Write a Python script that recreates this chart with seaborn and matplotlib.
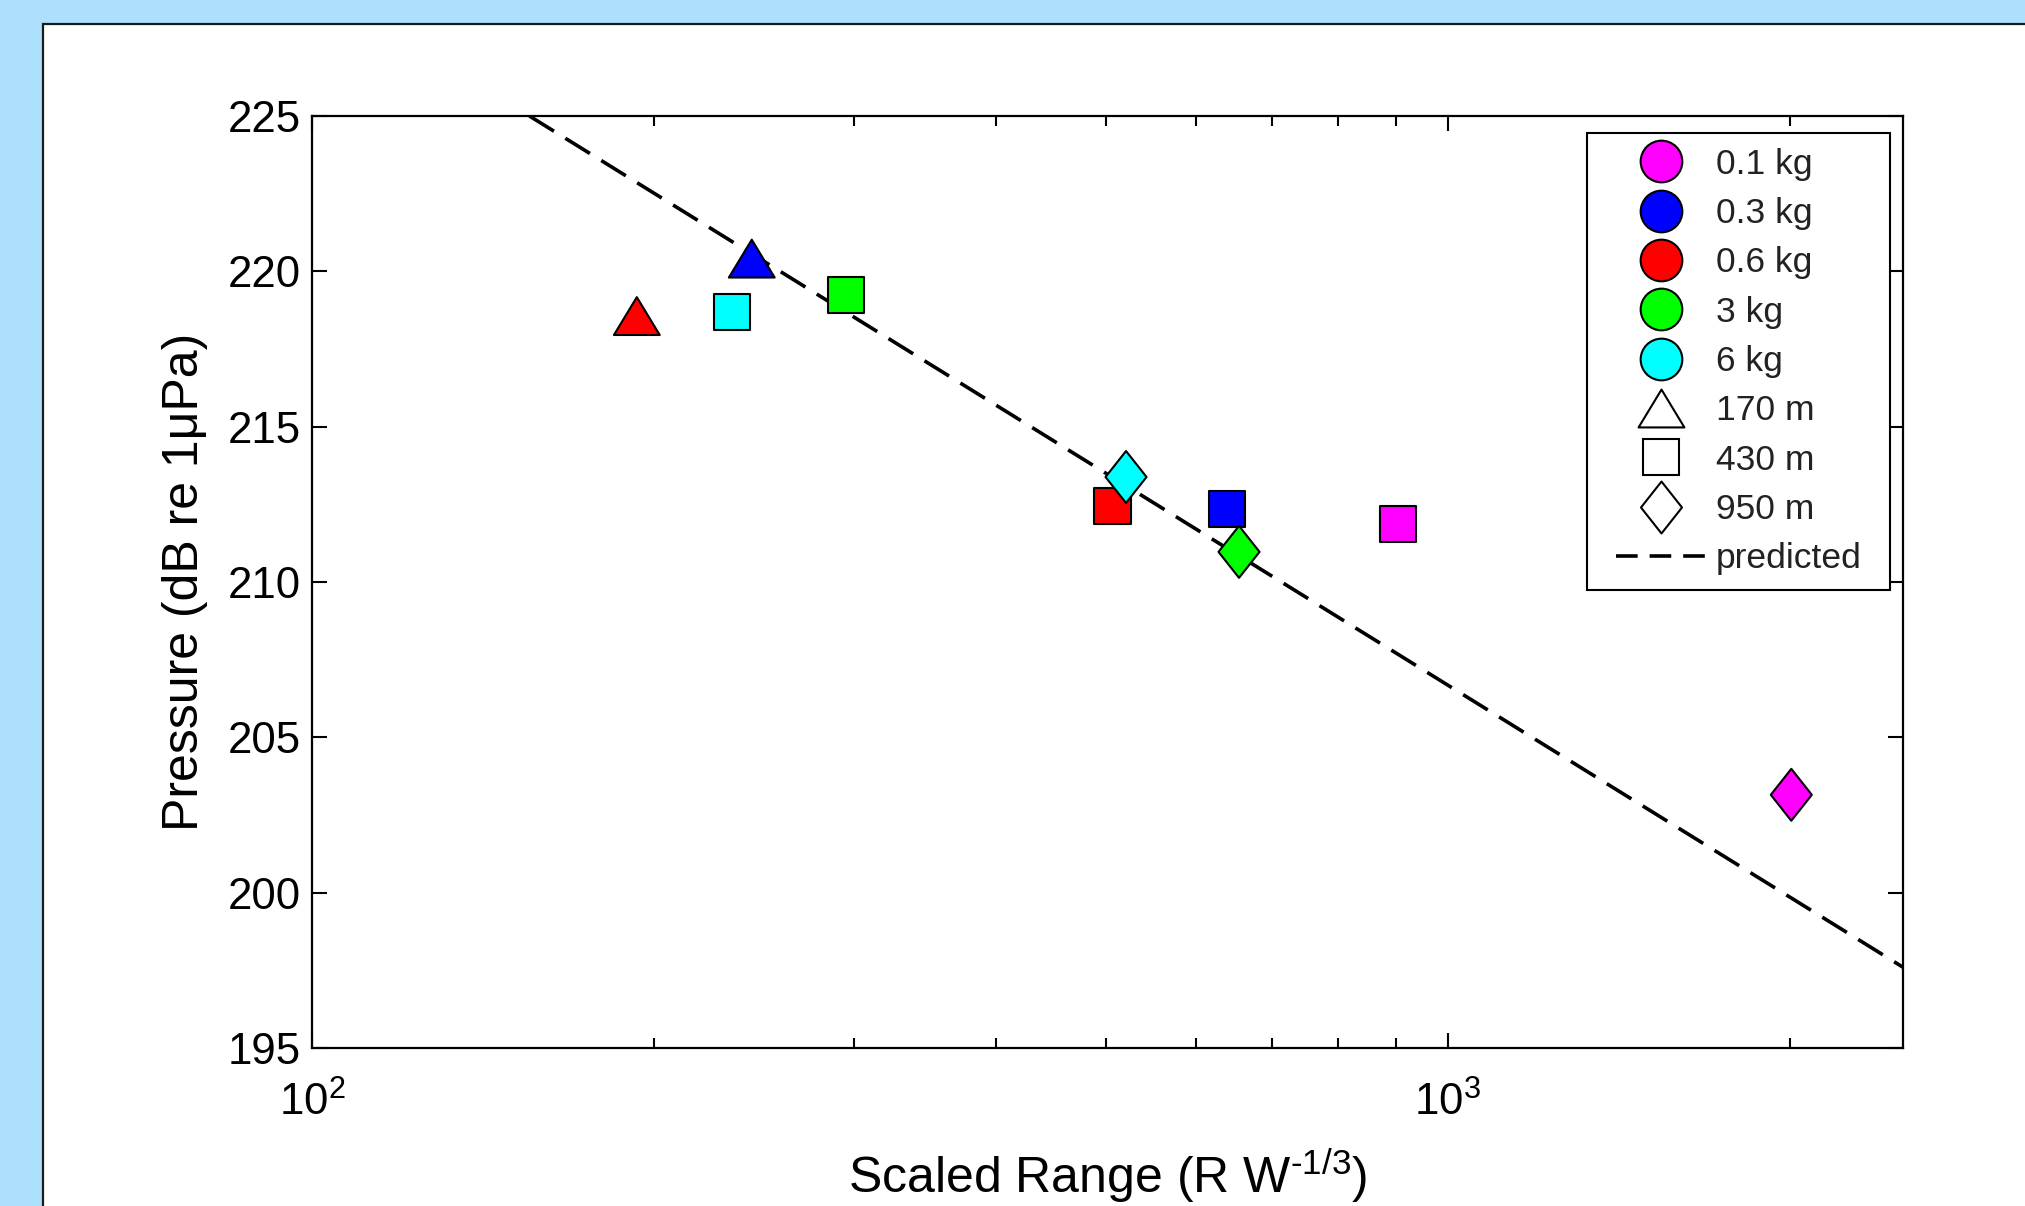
import numpy as np
import pandas as pd
import matplotlib
matplotlib.use("Agg")
import matplotlib.pyplot as plt
import seaborn as sns
from matplotlib.lines import Line2D
from matplotlib.patches import Rectangle
from matplotlib.path import Path
from matplotlib.legend_handler import HandlerLine2D
from matplotlib.ticker import FixedLocator, NullLocator, NullFormatter, LogLocator

# ---------------- data ----------------
charges = ["0.1 kg", "0.3 kg", "0.6 kg", "3 kg", "6 kg"]
ranges = ["170 m", "430 m", "950 m"]
charge_colors = ["#FF00FF", "#0000FF", "#FF0000", "#00FF00", "#00FFFF"]

pt_charge = ["0.6 kg", "0.3 kg", "6 kg", "3 kg", "0.6 kg", "0.3 kg", "0.1 kg", "6 kg", "3 kg", "0.1 kg"]
pt_range = ["170 m", "170 m", "430 m", "430 m", "430 m", "430 m", "430 m", "950 m", "950 m", "950 m"]
scaled_range = [193.2, 243.9, 234.4, 295.3, 506.8, 639.3, 904.0, 520.9, 655.0, 2007.0]
pressure = [218.56, 220.41, 218.69, 219.24, 212.45, 212.35, 211.88, 213.38, 210.97, 203.15]

pred_x = [155.4, 2517.0]
pred_y = [225.0, 197.6]

y_ticks = [195, 200, 205, 210, 215, 220, 225]

# ---------------- style ----------------
sns.set_style("ticks")
plt.rcParams["font.family"] = ["Liberation Sans", "DejaVu Sans"]
plt.rcParams["mathtext.fontset"] = "custom"
plt.rcParams["mathtext.rm"] = "Liberation Sans"
plt.rcParams["mathtext.it"] = "Liberation Sans:italic"
plt.rcParams["mathtext.bf"] = "Liberation Sans:bold"
plt.rcParams["mathtext.default"] = "regular"
for k in ["text.color", "axes.labelcolor", "xtick.color", "ytick.color", "axes.edgecolor"]:
    plt.rcParams[k] = "black"

W, H = 2025, 1206
fig = plt.figure(figsize=(W / 100, H / 100), dpi=100)
fig.patch.set_facecolor("#ACE0FC")
fig.add_artist(Rectangle((43 / W, -0.1), 2.0, 1 - 24 / H + 0.1, transform=fig.transFigure,
                         facecolor="white", edgecolor="#1a1a1a", lw=1.6, zorder=-5))

L, R, T, B = 312, 1903, 116, 1048
ax = fig.add_axes([L / W, 1 - B / H, (R - L) / W, (B - T) / H])
ax.set_facecolor("white")

palette = dict(zip(charges, charge_colors))

def closed(verts):
    return Path(list(verts) + [verts[0]], closed=True)

tri_path = closed([(-1.0, -0.826), (1.0, -0.826), (0.0, 0.826)])
dia_path = closed([(0.0, 1.0), (0.79, 0.0), (0.0, -1.0), (-0.79, 0.0)])
markers = {"170 m": tri_path, "430 m": "s", "950 m": dia_path}
msize = {"170 m": 33.0, "430 m": 26.0, "950 m": 37.4}

df = pd.DataFrame({"charge": pt_charge, "range": pt_range,
                   "scaled": scaled_range, "pressure": pressure})

# predicted line
sns.lineplot(x=pred_x, y=pred_y, ax=ax, color="black", lw=2.6,
             linestyle=(0, (8.0, 3.7)), zorder=2, legend=False)

for rng in ranges:
    sub = df[df["range"] == rng]
    sns.scatterplot(data=sub, x="scaled", y="pressure", hue="charge",
                    palette=palette, hue_order=charges, marker=markers[rng],
                    s=msize[rng] ** 2, edgecolor="black", linewidth=1.5,
                    legend=False, ax=ax, zorder=3)

ax.set_xscale("log")
ax.set_xlim(100, 2517)
ax.set_ylim(195, 225)
ax.yaxis.set_major_locator(FixedLocator(y_ticks))
ax.yaxis.set_minor_locator(NullLocator())
ax.xaxis.set_major_locator(LogLocator(base=10))
ax.xaxis.set_minor_locator(LogLocator(base=10, subs=np.arange(2, 10)))
ax.xaxis.set_minor_formatter(NullFormatter())

ax.tick_params(which="both", direction="in", top=True, right=True, width=1.5,
               labelsize=31.5, colors="black")
ax.tick_params(which="major", length=11, pad=8)
ax.tick_params(which="minor", length=7)
ax.tick_params(axis="x", which="major", pad=24)
for s in ax.spines.values():
    s.set_linewidth(1.6)
    s.set_color("black")
    s.set_visible(True)

ax.set_xlabel("Scaled Range (R W$^{\\text{-1/3}}$)", fontsize=36, labelpad=16, color="black")
ax.set_ylabel("Pressure (dB re 1\u03bcPa)", fontsize=36, labelpad=14, color="black")

# legend
handles = []
for c in charges:
    handles.append(Line2D([], [], ls="none", marker="o", markersize=30,
                          markerfacecolor=palette[c], markeredgecolor="black",
                          markeredgewidth=1.5))
for rng in ranges:
    handles.append(Line2D([], [], ls="none", marker=markers[rng], markersize=msize[rng],
                          markerfacecolor="white", markeredgecolor="black",
                          markeredgewidth=1.5))
handles.append(Line2D([], [], color="black", lw=2.6, linestyle=(0, (6.0, 3.3))))
labels = charges + ranges + ["predicted"]

leg_x0 = (1587 - L) / (R - L)
leg_w = (1890 - 1587) / (R - L)
leg_top = (B - 133) / (B - T)
leg = ax.legend(handles, labels, loc="upper right",
                bbox_to_anchor=(leg_x0, 0.4, leg_w, leg_top - 0.4), mode="expand",
                borderaxespad=0,
                frameon=True, fancybox=False, framealpha=1, edgecolor="black",
                fontsize=25.5, handlelength=2.94, handletextpad=0.28,
                labelspacing=0.46, borderpad=0.42,
                handler_map={Line2D: HandlerLine2D(xpad=0.40)})
leg.get_frame().set_linewidth(1.5)
for t in leg.get_texts():
    t.set_color("#222222")

fig.savefig("out.png", dpi=100, facecolor=fig.get_facecolor())
